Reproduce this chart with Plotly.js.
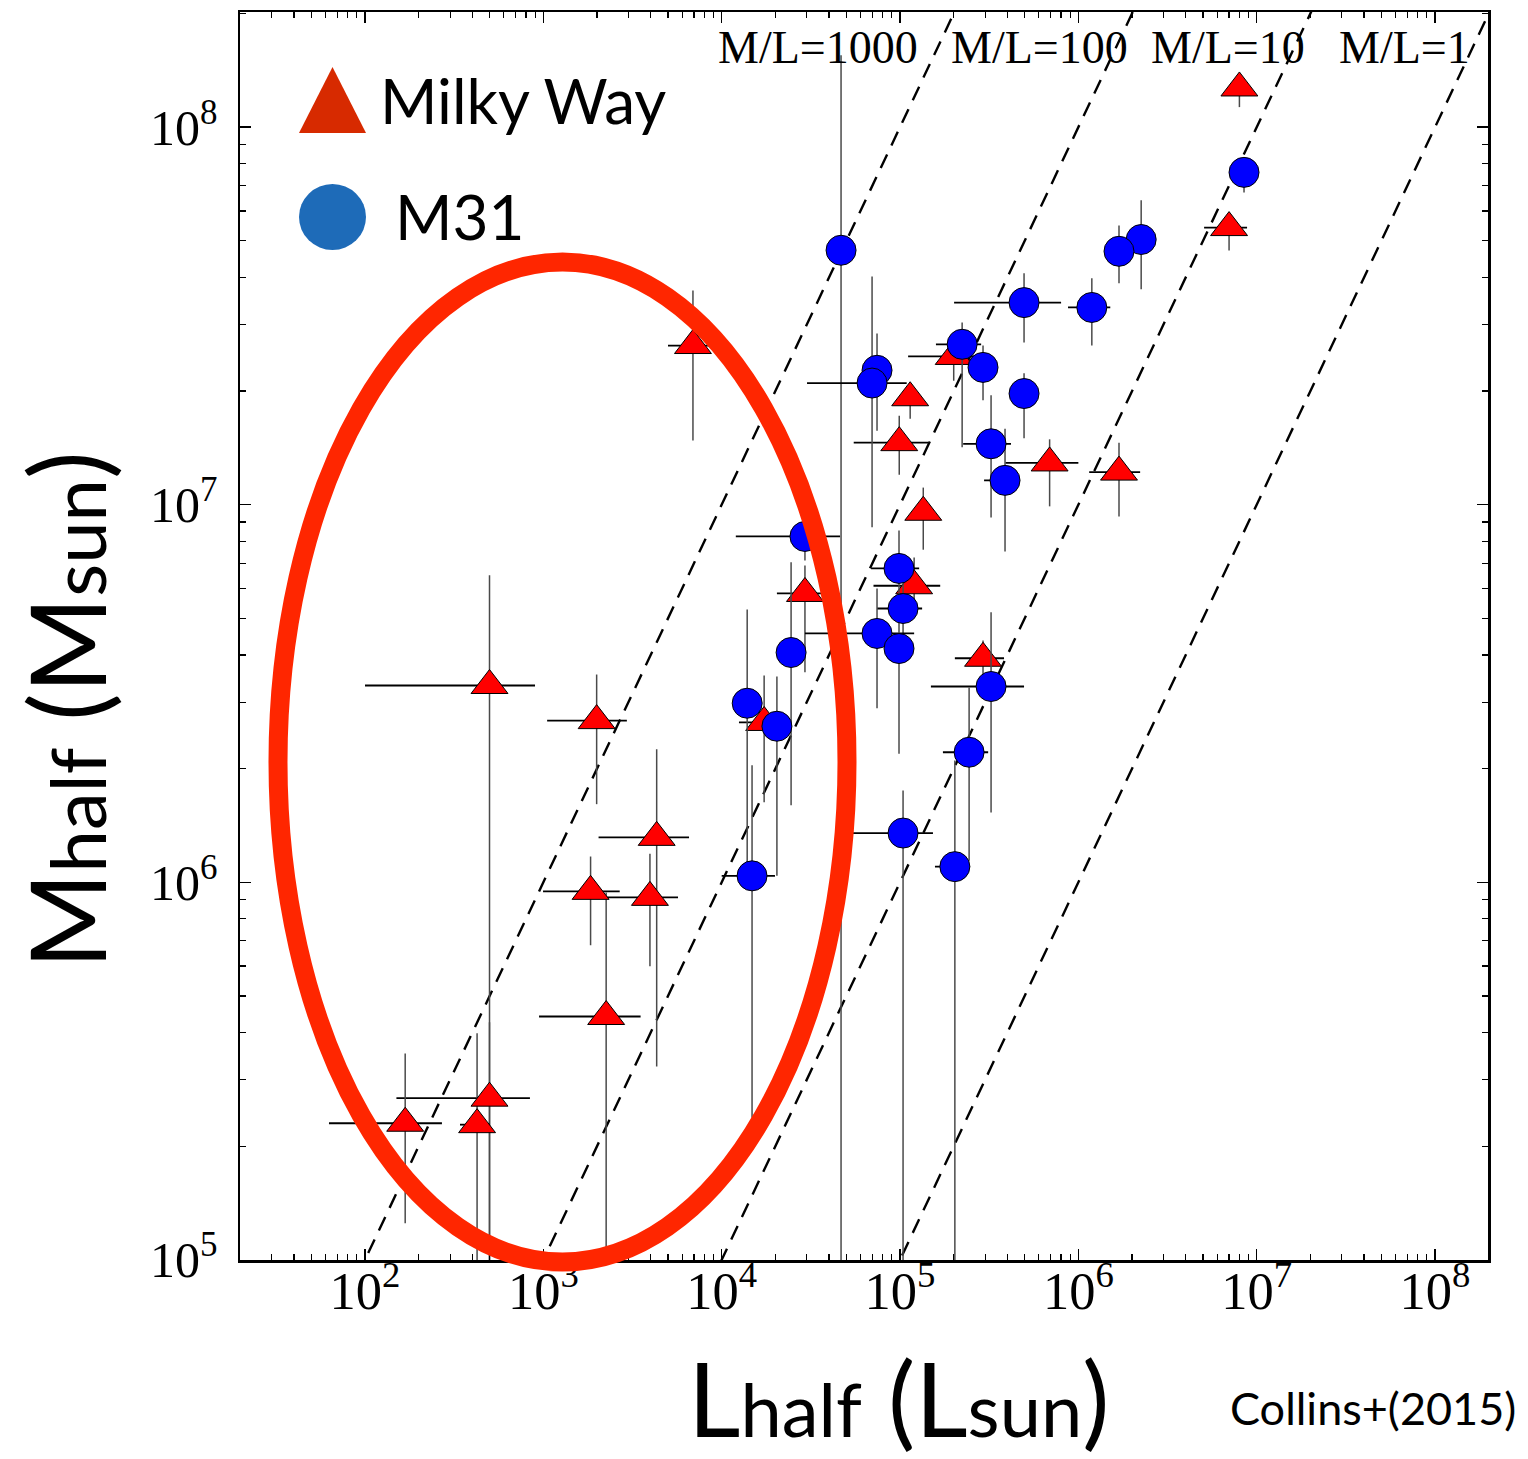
<!DOCTYPE html>
<html>
<head>
<meta charset="utf-8">
<script src="https://cdn.plot.ly/plotly-3.0.1.min.js"></script>
<style>html,body{margin:0;padding:0;background:#fff;}</style>
</head>
<body>
<div id="chart" style="width:1528px;height:1459px;"></div>
<script>
// ---------------- DATA ----------------
// Milky Way dwarfs: L_half (L_sun), M_half (M_sun) and error-bar bounds (null = no bar)
const mwL   = [8.0e6, 7.0e6, 6.9e3, 2.0e5, 1.14e5, 9.9e4, 6.9e5, 1.69e6, 1.35e5, 2.93e4, 1.2e5, 2.92e5, 1.73e4, 499, 1.99e3, 4.32e3, 1.84e3, 3.96e3, 2.25e3, 499, 425, 168];
const mwM   = [1.27e8, 5.42e7, 2.64e7, 2.47e7, 1.92e7, 1.46e7, 1.29e7, 1.22e7, 9.55e6, 5.82e6, 6.1e6, 3.92e6, 2.65e6, 3.32e6, 2.68e6, 1.315e6, 9.46e5, 9.12e5, 4.41e5, 2.68e5, 2.28e5, 2.30e5];
const mwLlo = [null, 5.07e6, 5.0e3, 1.11e5, null, 5.5e4, 3.9e5, 1.15e6, null, 2.04e4, 7.1e4, 2.03e5, 1.25e4, 100, 1.05e3, 2.04e3, 996, 2.22e3, 946, 150, 341, 62.8];
const mwLhi = [null, 8.83e6, 8.6e3, 2.6e5, null, 1.44e5, 1.0e6, 2.22e6, null, 3.61e4, 1.68e5, 3.83e5, 2.42e4, 898, 2.94e3, 6.56e3, 2.68e3, 5.69e3, 3.51e3, 841, 502, 270];
const mwMlo = [1.13e8, 4.71e7, 1.48e7, 2.13e7, 1.69e7, 1.20e7, 9.9e6, 9.3e6, 7.6e6, 3.6e6, 5.1e6, 3.53e6, 1.63e6, 8e4, 1.61e6, 3.25e5, 6.81e5, 5.99e5, 1.08e5, 8e4, 8e4, 1.25e5];
const mwMhi = [1.37e8, 5.91e7, 3.69e7, 2.81e7, 2.10e7, 1.72e7, 1.49e7, 1.46e7, 1.11e7, 6.9e6, 7.25e6, 4.37e6, 3.53e6, 6.5e6, 3.55e6, 2.25e6, 1.17e6, 1.19e6, 9.4e5, 4.26e5, 3.98e5, 3.52e5];

// M31 dwarfs
const m31L   = [8.49e6, 4.67e4, 2.25e6, 1.69e6, 4.96e5, 1.19e6, 2.23e5, 2.92e5, 7.43e4, 6.97e4, 4.96e5, 3.24e5, 3.88e5, 2.93e4, 9.87e4, 1.04e5, 7.43e4, 9.87e4, 2.45e4, 3.24e5, 1.39e4, 2.04e4, 2.44e5, 1.04e5, 2.03e5, 1.48e4];
const m31M   = [7.59e7, 4.72e7, 5.04e7, 4.69e7, 3.43e7, 3.33e7, 2.66e7, 2.31e7, 2.27e7, 2.10e7, 1.97e7, 1.45e7, 1.16e7, 8.24e6, 6.78e6, 5.31e6, 4.56e6, 4.16e6, 4.06e6, 3.3e6, 2.98e6, 2.59e6, 2.21e6, 1.35e6, 1.10e6, 1.04e6];
const m31Llo = [null, null, null, null, 2.01e5, 8.75e5, 1.59e5, null, null, 3.01e4, null, 2.26e5, 2.96e5, 1.20e4, 6.88e4, 7.43e4, 2.93e4, null, null, 1.49e5, null, null, 1.74e5, 5.45e4, 1.57e5, 1.0e4];
const m31Lhi = [null, null, null, null, 8.0e5, 1.51e6, 2.85e5, null, null, 1.09e5, null, 4.19e5, 4.71e5, 4.61e4, 1.28e5, 1.33e5, 1.20e5, null, null, 4.96e5, null, null, 3.12e5, 1.53e5, 2.47e5, 1.99e4];
const m31Mlo = [6.71e7, 8e4, 3.72e7, 3.86e7, 2.69e7, 2.64e7, 1.42e7, 1.89e7, 1.57e7, 8.71e6, 1.5e7, 9.25e6, 7.52e6, 7.12e6, 5.58e6, 4.11e6, 2.89e6, 2.19e6, 1.6e6, 1.53e6, 1.04e6, 1.04e6, 1.14e6, 8e4, 8e4, 2.38e5];
const m31Mhi = [8.16e7, 1.55e8, 6.4e7, 5.49e7, 4.1e7, 3.98e7, 3.04e7, 2.64e7, 2.84e7, 4.02e7, 2.23e7, 1.95e7, 1.59e7, 9.09e6, 8.55e6, 6.7e6, 6.0e6, 5.58e6, 7.04e6, 5.19e6, 5.28e6, 3.51e6, 3.28e6, 1.75e6, 2.1e6, 2.04e6];

// constant mass-to-light reference lines
const mlRatios = [1000, 100, 10, 1];
const mlLabels = ['M/L=1000', 'M/L=100', 'M/L=10', 'M/L=1'];
const lineL = [10, 1e9];

const seriesNames = ['Milky Way', 'M31'];
const xTitle = 'L<span style="font-size:74px">half</span> (L<span style="font-size:74px">sun</span>)';
const yTitle = 'M<span style="font-size:76px">half</span> (M<span style="font-size:76px">sun</span>)';
const credit = 'Collins+(2015)';

// ---------------- HELPERS ----------------
const errPlus  = (v, hi) => v.map((x, i) => hi[i] == null ? 0 : hi[i] - x);
const errMinus = (v, lo) => v.map((x, i) => lo[i] == null ? 0 : x - lo[i]);

// plot area in pixels: x 240..1488, y 12..1260
const px2x = p => (p - 240) / 1248;
const py2y = p => (1260 - p) / 1248;

const traces = [];

mlRatios.forEach(r => {
  traces.push({
    x: lineL, y: lineL.map(l => l * r),
    type: 'scatter', mode: 'lines', hoverinfo: 'skip', showlegend: false,
    line: {color: 'black', width: 2.4, dash: '15px,10px'}
  });
});

const vErr = {color: '#4a4a4a', thickness: 1.5, width: 0};
const hErr = {color: '#000000', thickness: 1.8, width: 0};

traces.push({
  name: seriesNames[0], x: mwL, y: mwM, type: 'scatter', mode: 'markers',
  marker: {symbol: 'triangle-up', size: 32, color: '#ff0000', line: {color: 'black', width: 1}},
  error_x: Object.assign({type: 'data', symmetric: false, array: errPlus(mwL, mwLhi), arrayminus: errMinus(mwL, mwLlo)}, hErr),
  error_y: Object.assign({type: 'data', symmetric: false, array: errPlus(mwM, mwMhi), arrayminus: errMinus(mwM, mwMlo)}, vErr)
});

traces.push({
  name: seriesNames[1], x: m31L, y: m31M, type: 'scatter', mode: 'markers',
  marker: {symbol: 'circle', size: 30, color: '#0000ff', line: {color: 'black', width: 1}},
  error_x: Object.assign({type: 'data', symmetric: false, array: errPlus(m31L, m31Lhi), arrayminus: errMinus(m31L, m31Llo)}, hErr),
  error_y: Object.assign({type: 'data', symmetric: false, array: errPlus(m31M, m31Mhi), arrayminus: errMinus(m31M, m31Mlo)}, vErr)
});

const axisCommon = {
  type: 'log', dtick: 1, exponentformat: 'power', showexponent: 'all',
  ticks: 'inside', ticklen: 11, tickwidth: 1.5, tickcolor: 'black',
  showline: true, linecolor: 'black', linewidth: 2.5, mirror: 'ticks',
  showgrid: false, zeroline: false,
  minor: {ticks: 'inside', ticklen: 6, tickwidth: 1.2, tickcolor: 'black', dtick: 'D1', showgrid: false}
};

const mlRight = [920, 1130, 1307, 1472];
const annotations = mlLabels.map((t, i) => ({
  text: t, xref: 'paper', yref: 'paper', x: px2x(mlRight[i]), y: py2y(47),
  xanchor: 'right', yanchor: 'middle', showarrow: false,
  font: {family: 'Liberation Serif', size: 46, color: 'black'}
}));

annotations.push(
  {text: seriesNames[0], xref: 'paper', yref: 'paper', x: px2x(378), y: py2y(100), xanchor: 'left', yanchor: 'middle', showarrow: false,
   font: {family: 'Lato', size: 62, color: 'black'}},
  {text: seriesNames[1], xref: 'paper', yref: 'paper', x: px2x(393), y: py2y(216), xanchor: 'left', yanchor: 'middle', showarrow: false,
   font: {family: 'Lato', size: 62, color: 'black'}},
  {text: yTitle, xref: 'paper', yref: 'paper', x: px2x(65), y: py2y(710), xanchor: 'center', yanchor: 'middle', textangle: -90, showarrow: false,
   borderpad: 0, font: {family: 'Lato', size: 104, color: 'black'}},
  {text: xTitle, xref: 'paper', yref: 'paper', x: px2x(898), y: py2y(1397), xanchor: 'center', yanchor: 'middle', showarrow: false,
   borderpad: 0, font: {family: 'Lato', size: 102, color: 'black'}},
  {text: credit, xref: 'paper', yref: 'paper', x: px2x(1518), y: py2y(1408), xanchor: 'right', yanchor: 'middle', showarrow: false,
   font: {family: 'Lato', size: 45, color: 'black'}}
);

const shapes = [
  {type: 'circle', xref: 'paper', yref: 'paper', x0: px2x(278), x1: px2x(847), y0: py2y(1262), y1: py2y(262),
   line: {color: '#ff2600', width: 19}, layer: 'above'},
  {type: 'path', xref: 'paper', yref: 'paper',
   path: 'M ' + px2x(299) + ',' + py2y(133) + ' L ' + px2x(366) + ',' + py2y(133) + ' L ' + px2x(332.5) + ',' + py2y(67) + ' Z',
   fillcolor: '#d72a00', line: {width: 0}, layer: 'above'},
  {type: 'circle', xref: 'paper', yref: 'paper', x0: px2x(299), x1: px2x(366), y0: py2y(250), y1: py2y(184),
   fillcolor: '#1e6bb8', line: {width: 0}, layer: 'above'}
];

const layout = {
  width: 1528, height: 1459,
  margin: {l: 240, r: 40, t: 12, b: 199, pad: 0},
  paper_bgcolor: 'white', plot_bgcolor: 'white',
  showlegend: false,
  xaxis: Object.assign({}, axisCommon, {
    range: [1.299, 8.297],
    tickfont: {family: 'Liberation Serif', size: 42, color: 'black'},
    ticklabelstandoff: -14
  }),
  yaxis: Object.assign({}, axisCommon, {
    range: [4.9995, 8.305],
    tickfont: {family: 'Liberation Serif', size: 40, color: 'black'},
    ticklabelstandoff: 12
  }),
  annotations: annotations,
  shapes: shapes
};

Plotly.newPlot('chart', traces, layout, {staticPlot: true, displayModeBar: false});
</script>
</body>
</html>
